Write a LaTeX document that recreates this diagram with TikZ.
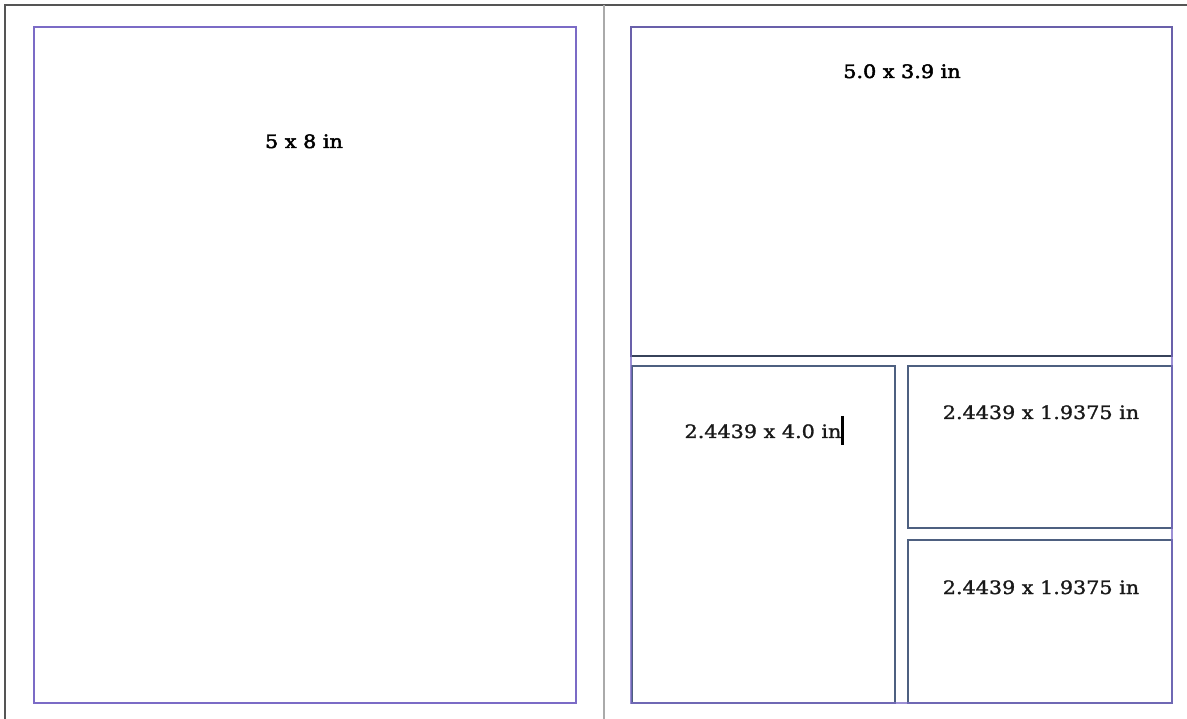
\documentclass[tikz,border=0pt]{standalone}
\usepackage{fontspec}
\newfontfamily\labfont[FakeBold=1.3]{DejaVu Serif}
\newfontfamily\headfont[FakeBold=2.4]{DejaVu Serif}
\definecolor{margin}{HTML}{7B6BC6}
\definecolor{slate}{HTML}{4E6080}
\definecolor{frame}{HTML}{555555}
\definecolor{divider}{HTML}{AAAAAA}
\tikzset{
  boxnode/.style={draw=slate, line width=1.7pt, rectangle, inner sep=0pt, outer sep=0pt},
  marginbox/.style={draw=margin, line width=1.9pt, rectangle, inner sep=0pt, outer sep=0pt},
  sizelabel/.style={anchor=base, inner sep=0pt, font=\labfont\fontsize{18.5}{22}\selectfont, xscale=1.12, text=black!90},
  headlabel/.style={sizelabel, font=\headfont\fontsize{18.5}{22}\selectfont, text=black},
}
\begin{document}
\begin{tikzpicture}[x=1pt,y=-1pt]
\useasboundingbox (0,0) rectangle (1187,719);
\fill[white] (0,0) rectangle (1187,719);
% outer frame and divider
\coordinate (tl) at (5,5);
\coordinate (tr) at (1187,5);
\coordinate (bl) at (5,719);
\coordinate (dt) at (604,5);
\coordinate (db) at (604,719);
\draw[frame, line width=1.6pt] (bl) -- (tl) -- (tr);
\draw[divider, line width=1.3pt] (dt) -- (db);
% left page
\node[marginbox, minimum width=542pt, minimum height=676pt] (leftpage) at (305,365) {};
\node[headlabel] (leftlab) at (304,148) {5 x 8 in};
% right page boxes
\node[boxnode, draw=slate!70!black, minimum width=541pt, minimum height=329pt] (topbox) at (901.5,191.5) {};
\node[boxnode, minimum width=263pt, minimum height=337pt] (lowleft) at (763.5,534.5) {};
\node[boxnode, minimum width=264pt, minimum height=162pt] (smalltop) at (1040,447) {};
\node[boxnode, minimum width=264pt, minimum height=163pt] (smallbot) at (1040,621.5) {};
% right page margin guide
\node[marginbox, draw opacity=0.75, minimum width=541pt, minimum height=676pt] (rightpage) at (901.5,365) {};
% labels
\node[headlabel] (toplab) at (902,78) {5.0 x 3.9 in};
\node[sizelabel] (lowleftlab) at (763,438) {2.4439 x 4.0 in};
\node[sizelabel] (smalltoplab) at (1041,419) {2.4439 x 1.9375 in};
\node[sizelabel] (smallbotlab) at (1041,594) {2.4439 x 1.9375 in};
% text cursor
\coordinate (cur1) at (842.5,416);
\coordinate (cur2) at (842.5,445);
\draw[black, line width=2.2pt] (cur1) -- (cur2);
\end{tikzpicture}
\end{document}
